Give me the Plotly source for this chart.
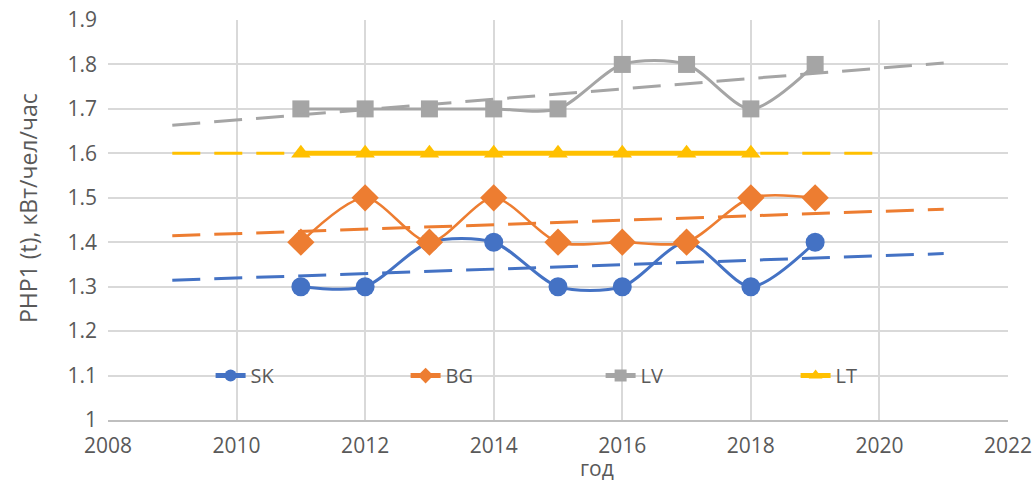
import numpy as np
import plotly.graph_objects as go

# values
years_sk = [2011, 2012, 2013, 2014, 2015, 2016, 2017, 2018, 2019]
sk = [1.3, 1.3, 1.4, 1.4, 1.3, 1.3, 1.4, 1.3, 1.4]
years_bg = [2011, 2012, 2013, 2014, 2015, 2016, 2017, 2018, 2019]
bg = [1.4, 1.5, 1.4, 1.5, 1.4, 1.4, 1.4, 1.5, 1.5]
years_lv = [2011, 2012, 2013, 2014, 2015, 2016, 2017, 2018, 2019]
lv = [1.7, 1.7, 1.7, 1.7, 1.7, 1.8, 1.8, 1.7, 1.8]
years_lt = [2011, 2012, 2013, 2014, 2015, 2016, 2017, 2018]
lt = [1.6, 1.6, 1.6, 1.6, 1.6, 1.6, 1.6, 1.6]

# linear trendlines (Excel style, with backward/forward forecast)
trend_span = {'SK': (2009, 2021), 'BG': (2009, 2021), 'LV': (2009, 2021), 'LT': (2009, 2020)}

series = [
    ('SK', years_sk, sk, '#4472C4', 'circle', 19, 3),
    ('BG', years_bg, bg, '#ED7D31', 'diamond', 21, 2.5),
    ('LV', years_lv, lv, '#A5A5A5', 'square', 17, 3),
    ('LT', years_lt, lt, '#FFC000', 'triangle-up', 17, 5),
]

FONT = dict(family='Open Sans, sans-serif', size=21, color='#595959')

data = []
for name, x, y, col, sym, msize, lw in series:
    data.append(go.Scatter(x=x, y=y, name=name, mode='lines+markers',
                           line=dict(color=col, width=lw, shape='spline', smoothing=0.8),
                           marker=dict(symbol=sym, size=msize, color=col)))
for name, x, y, col, sym, msize, lw in series:
    k, b = np.polyfit(x, y, 1)
    x0, x1 = trend_span[name]
    data.append(go.Scatter(x=[x0, x1], y=[k * x0 + b, k * x1 + b], mode='lines',
                           showlegend=False, hoverinfo='skip',
                           line=dict(color=col, width=3, dash='28px,14px')))

fig = go.Figure(data=data)

fig.update_layout(
    width=1035, height=481,
    margin=dict(l=108, r=27, t=20, b=61, autoexpand=False),
    paper_bgcolor='white', plot_bgcolor='white',
    font=FONT,
    xaxis=dict(range=[2008, 2022], dtick=2, tick0=2008, showgrid=True,
               gridcolor='#D9D9D9', gridwidth=1.5, zeroline=False, automargin=False,
               showline=True, linecolor='#BFBFBF', linewidth=2, mirror=False,
               ticks='', ticklabelstandoff=6, tickfont=FONT),
    yaxis=dict(range=[1, 1.9], dtick=0.1, tick0=1, showgrid=True,
               gridcolor='#D9D9D9', gridwidth=1.5, zeroline=False, automargin=False,
               showline=False, ticks='', ticklabelstandoff=10, tickfont=FONT),
    legend=dict(orientation='h', x=0.114, y=0.111, xanchor='left', yanchor='middle',
                bgcolor='rgba(0,0,0,0)', entrywidth=150, entrywidthmode='pixels',
                font=dict(family='Open Sans, sans-serif', size=20, color='#595959'),
                itemsizing='constant'),
    annotations=[
        dict(text='год', x=2015.6, xref='x', y=-0.12, yref='paper',
             showarrow=False, font=FONT, yanchor='middle'),
        dict(text='PHP1 (t), кВт/чел/час', x=(28 - 108) / 900, xref='paper',
             xanchor='center', y=0.5, yref='paper', yanchor='middle', yshift=12,
             textangle=-90, showarrow=False,
             font=dict(family='Open Sans, sans-serif', size=23, color='#595959')),
    ],
)

fig.write_html("out.html", config={'displayModeBar': False},
               post_script="document.body.style.margin='0';")
